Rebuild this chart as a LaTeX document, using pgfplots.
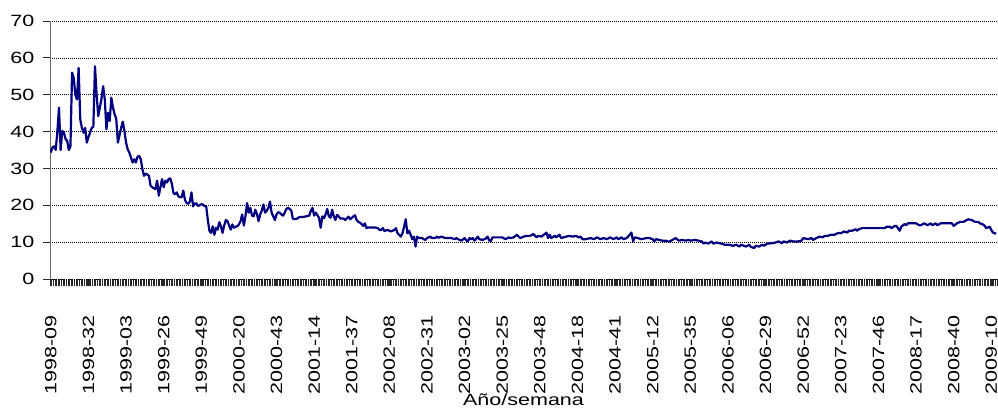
\documentclass[border=0pt]{standalone}
\usepackage{pgfplots}
\pgfplotsset{compat=1.18}
\usepackage{fontspec}
\setmainfont{Liberation Sans}[FakeStretch=1.32]
\definecolor{navyline}{RGB}{0,0,128}
\definecolor{tickc}{RGB}{40,40,40}
\begin{document}
\fontsize{16.3bp}{19bp}\selectfont
\begin{tikzpicture}
\useasboundingbox (-50bp,-135bp) rectangle (948bp,279bp);
\begin{axis}[
  at={(0,0)}, anchor=south west,
  width=947bp, height=258bp, scale only axis,
  xmin=-0.5, xmax=578.5, ymin=0, ymax=70,
  ytick={0,10,...,70},
  xtick={0,23,...,575},
  xticklabels={1998-09,1998-32,1999-03,1999-26,1999-49,2000-20,2000-43,2001-14,2001-37,2002-08,2002-31,2003-02,2003-25,2003-48,2004-18,2004-41,2005-12,2005-35,2006-06,2006-29,2006-52,2007-23,2007-46,2008-17,2008-40,2009-10},
  minor xtick={-0.5,0.5,...,578.5},
  xticklabel style={rotate=90, anchor=east, inner sep=0pt, xshift=-5bp},
  xticklabel shift=24.5bp,
  tick align=outside,
  major tick length=6.5bp,
  minor tick length=7bp,
  every tick/.style={draw=tickc, line width=0.8bp},
  axis x line*=bottom, axis y line*=left,
  x axis line style={black, line width=0.6bp, dash pattern=on 0.8bp off 1.2bp},
  y axis line style={black!60, line width=0.9bp},
  ymajorgrids,
  major grid style={black, line width=0.6bp, dash pattern=on 0.8bp off 1.2bp},
  /pgf/number format/assume math mode=true,
  yticklabel style={anchor=east, inner sep=0pt, xshift=-9bp},
  clip=false,
]
\addplot[navyline, line width=2.2bp, line join=round] coordinates {
(0,34.3)(1,35.7)(2,36.0)(3,35.0)(4,40)(5,46.5)(6,35.0)(7,40.2)(8,39.7)(9,38.0)
(10,37.5)(11,35.0)(12,36.0)(13,56.0)(14,54.6)(15,50)(16,48.7)(17,57.3)(18,43.3)(19,41.0)
(20,39.7)(21,41.0)(22,37.0)(23,38.5)(24,39.7)(25,41.0)(26,41.3)(27,57.7)(28,50)(29,44.2)
(30,46.5)(31,49)(32,52.3)(33,48.7)(34,40.6)(35,45.1)(36,42.9)(37,49.2)(38,46.5)(39,44.7)
(40,43.5)(41,37.0)(42,39)(43,41.0)(44,42.7)(45,40.2)(46,37)(47,35.2)(48,34.3)(49,33.0)
(50,31.6)(51,32.5)(52,31.6)(53,33.2)(54,33.4)(55,32.5)(56,29.8)(57,28.0)(58,28.6)(59,28.3)
(60,28.0)(61,25.3)(62,24.9)(63,24.6)(64,24.4)(65,26.7)(66,22.6)(67,24.9)(68,27.1)(69,24.9)
(70,26.7)(71,26.2)(72,27.1)(73,27.3)(74,25.8)(75,23.3)(76,23.0)(77,23.5)(78,22.4)(79,22.2)
(80,22.2)(81,24.0)(82,21.5)(83,20.6)(84,20.4)(85,21.0)(86,23.5)(87,19.7)(88,20.5)(89,20.5)
(90,19.8)(91,20.0)(92,20.3)(93,20.2)(94,19.8)(95,19.7)(96,16.0)(97,13.0)(98,12.5)(99,14.3)
(100,12.0)(101,13.9)(102,13.4)(103,15.4)(104,14.3)(105,12.5)(106,14.5)(107,16.0)(108,15.7)(109,14.5)
(110,13.4)(111,14.8)(112,13.9)(113,14.2)(114,14.3)(115,14.8)(116,15.7)(117,17.5)(118,14.5)(119,17)
(120,20.6)(121,18.0)(122,19.3)(123,17.2)(124,17.0)(125,18.8)(126,17.7)(127,15.7)(128,17.5)(129,18.6)
(130,20.2)(131,18.0)(132,18.5)(133,19.3)(134,21.0)(135,18.0)(136,17)(137,16.0)(138,17.5)(139,18.1)
(140,18.0)(141,17.5)(142,17.2)(143,18)(144,19.0)(145,19.3)(146,19)(147,18.6)(148,16.3)(149,16.3)
(150,16.3)(151,16.5)(152,16.8)(153,16.8)(154,16.8)(155,16.9)(156,17.0)(157,17.1)(158,17.2)(159,18.5)
(160,19.3)(161,17.2)(162,18.0)(163,17.3)(164,16.6)(165,13.9)(166,17.0)(167,16.5)(168,17.5)(169,19.0)
(170,17.0)(171,16.6)(172,18.8)(173,17.0)(174,16.0)(175,17.4)(176,17.0)(177,16.4)(178,16.4)(179,16.4)
(180,16.0)(181,16.5)(182,16.9)(183,16.2)(184,16.6)(185,17.0)(186,17.3)(187,16.0)(188,15.5)(189,15.3)
(190,14.9)(191,14.4)(192,15.1)(193,13.8)(194,14.0)(196,14.0)(198,14.0)(199,13.9)(200,13.8)(201,13.3)
(202,13.3)(203,13.8)(204,13.0)(205,13.2)(206,13.3)(207,13.1)(208,12.9)(209,13.1)(210,13.3)(211,13.8)
(212,12.4)(213,12.0)(214,11.5)(215,12.4)(216,14.2)(217,16.2)(218,12.4)(219,13.1)(220,12.0)(221,10.8)
(222,11.5)(223,8.8)(224,11.5)(225,11.1)(227,11.1)(228,10.8)(229,10.6)(230,11.1)(231,11.3)(232,11.5)
(233,11.1)(235,11.1)(236,11.5)(237,11.2)(239,11.5)(240,11.3)(241,11.1)(243,11.1)(245,11.1)(247,10.8)
(248,11.1)(249,10.8)(250,10.6)(251,10.4)(253,11.1)(254,10.5)(255,10.2)(256,11.1)(257,10.8)(258,11.1)
(259,10.4)(260,10.9)(261,11.5)(262,10.8)(264,10.6)(266,11.0)(267,11.5)(268,10.5)(269,10.2)(270,11.3)
(273,11.3)(276,11.3)(278,10.8)(280,11.3)(281,11.1)(283,11.3)(285,12.0)(287,11.1)(289,11.5)(291,11.7)
(293,11.7)(295,12.2)(297,11.3)(298,11.7)(300,11.5)(302,12.2)(303,12.6)(304,11.1)(305,12.0)(306,11.1)
(308,11.7)(309,11.3)(311,12.0)(312,11.1)(315,11.5)(317,11.7)(319,11.5)(321,11.7)(323,11.3)(324,11.5)
(325,10.8)(327,10.8)(330,11.1)(332,10.8)(334,11.3)(336,10.8)(338,11.1)(340,10.8)(342,11.3)(344,10.8)
(346,11.3)(347,10.8)(349,11.3)(350,10.8)(352,11.1)(353,11.5)(355,12.6)(356,10.2)(357,11.3)(359,11.1)
(361,10.8)(364,11.1)(366,11.1)(368,10.8)(369,10.2)(370,10.8)(372,10.6)(374,10.4)(376,10.4)(378,10.1)
(380,10.6)(382,11.1)(384,10.4)(386,10.6)(388,10.4)(390,10.6)(391,10.4)(394,10.6)(396,10.4)(398,10.2)
(399,9.6)(400,9.9)(402,9.6)(404,10.2)(405,9.6)(407,9.9)(410,9.6)(412,9.3)(414,9.3)(415,9.3)
(417,9.0)(419,9.3)(421,8.8)(422,9.3)(425,8.8)(427,9.3)(428,8.7)(430,8.4)(431,9.0)(433,8.8)
(435,9.3)(436,9.0)(438,9.6)(441,9.7)(443,9.9)(445,10.2)(447,9.7)(448,10.2)(450,9.9)(452,10.4)
(454,10.2)(457,10.2)(459,10.4)(460,11.1)(463,10.8)(465,11.1)(466,10.6)(468,11.1)(470,11.5)(472,11.3)
(473,11.7)(475,11.7)(477,12.0)(479,12.0)(481,12.4)(482,12.5)(483,12.4)(485,12.9)(487,12.6)(488,13.1)
(490,13.1)(492,13.5)(493,13.1)(494,13.5)(496,13.8)(500,13.8)(504,13.8)(508,13.8)(510,13.8)(511,14.2)
(513,14.2)(514,13.8)(516,14.4)(517,14.4)(519,13.1)(520,14.2)(522,14.9)(523,14.6)(524,15.1)(526,15.1)
(529,15.1)(531,14.6)(532,14.6)(534,15.1)(536,14.6)(538,15.1)(539,14.6)(541,15.1)(542,14.6)(544,15.1)
(547,15.1)(550,15.1)(551,15.1)(552,14.4)(554,15.1)(556,15.5)(558,15.5)(560,16.0)(561,16.2)(563,16.0)
(565,15.5)(567,15.5)(568,15.1)(570,14.8)(571,14.4)(572,13.8)(574,14.2)(575,13.3)(576,12.6)(578,12.3)
};
\node[anchor=base, inner sep=0pt] at (axis description cs:0.5,-0.492) {Año/semana};
\end{axis}
\end{tikzpicture}
\end{document}
